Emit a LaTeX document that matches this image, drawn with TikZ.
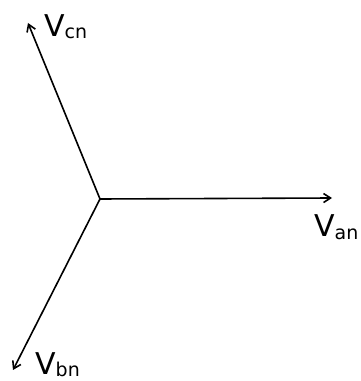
\documentclass[tikz,border=0pt]{standalone}
\usepackage{fontspec}
\setmainfont{DejaVu Sans}
\usetikzlibrary{arrows.meta}
\begin{document}
\begin{tikzpicture}[x=1pt,y=1pt,
  vec/.style={line width=1.6pt,-{Straight Barb[length=7pt,width=9pt,line width=1.6pt]}},
  lbl/.style={inner sep=0pt,font=\fontsize{30}{30}\selectfont}]
\useasboundingbox (0,0) rectangle (360,381);
\coordinate (o) at (100,182);
\coordinate (a) at (332,183);
\coordinate (c) at (28,358);
\coordinate (b) at (13,11);
\draw[vec] (o) -- (a);
\draw[vec] (o) -- (c);
\draw[vec] (o) -- (b);
\node[lbl,anchor=base west] (lc) at (44,344) {V\raisebox{-2pt}{\fontsize{19}{19}\selectfont cn}};
\node[lbl,anchor=base west] (la) at (314,144) {V\raisebox{-3pt}{\fontsize{19}{19}\selectfont an}};
\node[lbl,anchor=base west] (lb) at (35,6) {V\raisebox{-2pt}{\fontsize{19}{19}\selectfont bn}};
\end{tikzpicture}
\end{document}
